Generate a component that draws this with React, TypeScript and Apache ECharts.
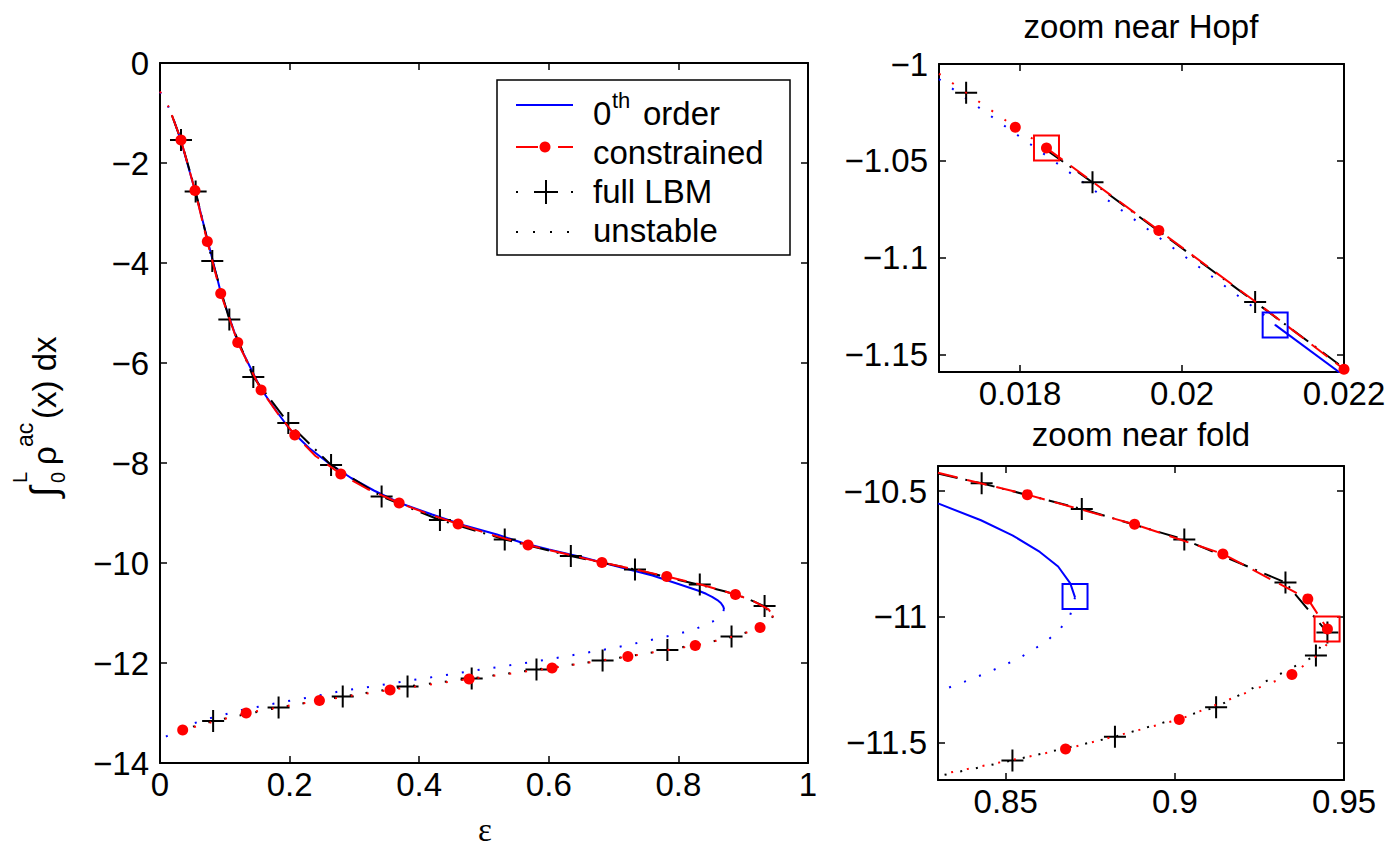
import React, { useEffect, useRef } from 'react';
import * as echarts from 'echarts';

// ---------------- MAIN PANEL DATA (epsilon, integral) ----------------
const mainBlueUpperUnstable = [[0, -0.58], [0.013, -0.88], [0.017, -1.008], [0.0212, -1.135]];
const mainBlueUpperStable = [
  [0.0212, -1.135], [0.032, -1.54], [0.054, -2.55], [0.074, -3.57], [0.094, -4.6], [0.12, -5.58],
  [0.155, -6.5], [0.18, -6.97], [0.2, -7.32], [0.23, -7.7], [0.26, -8.0], [0.295, -8.3], [0.33, -8.55],
  [0.37, -8.8], [0.42, -9.03], [0.47, -9.25], [0.52, -9.43], [0.56, -9.6], [0.6, -9.73], [0.65, -9.88],
  [0.7, -10.05], [0.76, -10.25], [0.8, -10.42], [0.83, -10.55], [0.8427, -10.616], [0.852, -10.676],
  [0.8601, -10.742], [0.8655, -10.8], [0.8691, -10.867], [0.8705, -10.923],
];
const mainBlueLowerUnstable = [
  [0.8705, -10.923], [0.866, -11.05], [0.853, -11.17], [0.828, -11.31], [0.802, -11.41], [0.751, -11.56],
  [0.7, -11.7], [0.647, -11.82], [0.594, -11.94], [0.543, -12.04], [0.49, -12.14], [0.437, -12.25],
  [0.385, -12.35], [0.333, -12.46], [0.28, -12.56], [0.229, -12.69], [0.177, -12.81], [0.126, -12.94],
  [0.1, -13.03], [0.075, -13.11], [0.049, -13.22], [0.025, -13.36], [0, -13.54],
];
const mainRedUpperUnstable = [[0, -0.57], [0.013, -0.87], [0.0183, -1.043]];
const mainRedUpperStable = [
  [0.0183, -1.043], [0.0324, -1.54], [0.054, -2.55], [0.073, -3.57], [0.0937, -4.61], [0.12, -5.59],
  [0.156, -6.54], [0.18, -6.98], [0.208, -7.44], [0.24, -7.86], [0.279, -8.22], [0.32, -8.52],
  [0.369, -8.8], [0.41, -9.0], [0.46, -9.22], [0.51, -9.43], [0.568, -9.64], [0.62, -9.8],
  [0.682, -9.99], [0.73, -10.12], [0.782, -10.27], [0.84, -10.45], [0.888, -10.63], [0.9142, -10.75],
  [0.9393, -10.929], [0.9455, -11.05],
];
const mainRedLowerUnstable = [
  [0.9455, -11.05], [0.9455, -11.1], [0.9425, -11.15], [0.9346, -11.23], [0.926, -11.29], [0.9013, -11.409],
  [0.8677, -11.527], [0.826, -11.65], [0.722, -11.87], [0.605, -12.1], [0.477, -12.32], [0.355, -12.54],
  [0.246, -12.75], [0.133, -13.0], [0.035, -13.34], [0.016, -13.46],
];
const mainBlackUpperStable = [
  [0.0183, -1.045], [0.0324, -1.54], [0.055, -2.57], [0.0807, -3.96], [0.107, -5.13], [0.144, -6.28],
  [0.198, -7.2], [0.264, -8.04], [0.342, -8.67], [0.432, -9.14], [0.532, -9.53], [0.634, -9.86],
  [0.733, -10.13], [0.8429, -10.469], [0.8725, -10.571], [0.9028, -10.693], [0.9327, -10.864], [0.946, -11.06],
];
const mainBlackLowerUnstable = [
  [0.946, -11.06], [0.9417, -11.154], [0.9122, -11.36], [0.8823, -11.478], [0.852, -11.572], [0.783, -11.74],
  [0.683, -11.95], [0.581, -12.13], [0.481, -12.31], [0.382, -12.47], [0.282, -12.67], [0.183, -12.89],
  [0.082, -13.16], [0.035, -13.33],
];
const mainRedMarkers = [
  [0.0324, -1.54], [0.054, -2.55], [0.073, -3.57], [0.0937, -4.61], [0.12, -5.59], [0.156, -6.54],
  [0.208, -7.44], [0.279, -8.22], [0.369, -8.8], [0.46, -9.22], [0.568, -9.64], [0.682, -9.99],
  [0.782, -10.27], [0.888, -10.63],
  [0.926, -11.29], [0.826, -11.65], [0.722, -11.87], [0.605, -12.1], [0.477, -12.32], [0.355, -12.54],
  [0.246, -12.75], [0.133, -13.0], [0.035, -13.34],
];
const mainBlackMarkers = [
  [0.0324, -1.54], [0.055, -2.57], [0.0807, -3.96], [0.107, -5.13], [0.144, -6.28], [0.198, -7.2],
  [0.264, -8.04], [0.342, -8.67], [0.432, -9.14], [0.532, -9.53], [0.634, -9.86], [0.733, -10.13],
  [0.833, -10.43], [0.933, -10.86],
  [0.882, -11.47], [0.783, -11.74], [0.683, -11.95], [0.581, -12.13], [0.481, -12.31], [0.382, -12.47],
  [0.282, -12.67], [0.183, -12.89], [0.082, -13.16],
];

// ---------------- HOPF ZOOM DATA ----------------
const hopfBlueUnstable = [[0.017, -1.0078], [0.018405, -1.0497], [0.019617, -1.0865], [0.021004, -1.1293], [0.02115, -1.1347]];
const hopfBlueStable = [[0.02115, -1.1347], [0.0221, -1.164]];
const hopfRedUnstable = [[0.017, -1.005], [0.017942, -1.0326], [0.018327, -1.0434]];
const hopfRedStable = [[0.018327, -1.0434], [0.019714, -1.0859], [0.0209, -1.1225], [0.022, -1.1576]];
const hopfBlackStable = [[0.01833, -1.0445], [0.018895, -1.0611], [0.020903, -1.1229], [0.022, -1.157]];
const hopfRedMarkers = [[0.017942, -1.0326], [0.018327, -1.0434], [0.019714, -1.0859], [0.022, -1.1576]];
const hopfBlackMarkers = [[0.017335, -1.0148], [0.018895, -1.0611], [0.020903, -1.1229]];
const hopfRedSquare = [[0.018327, -1.0434]];
const hopfBlueSquare = [[0.02115, -1.1347]];

// ---------------- FOLD ZOOM DATA ----------------
const foldBlueStable = [
  [0.83, -10.549], [0.8427, -10.616], [0.852, -10.676], [0.8601, -10.742], [0.8655, -10.8], [0.8691, -10.867], [0.8705, -10.923],
];
const foldBlueUnstable = [
  [0.8705, -10.923], [0.8691, -10.993], [0.866, -11.051], [0.8621, -11.097], [0.8577, -11.135], [0.8533, -11.17],
  [0.8487, -11.198], [0.844, -11.226], [0.8393, -11.251], [0.8344, -11.276], [0.83, -11.298],
];
const foldRedStable = [[0.83, -10.427], [0.8564, -10.514], [0.8881, -10.632], [0.9142, -10.75], [0.9393, -10.929], [0.9451, -11.049]];
const foldRedUnstable = [
  [0.9451, -11.049], [0.9455, -11.1], [0.9425, -11.15], [0.9346, -11.23], [0.9013, -11.409], [0.8677, -11.527], [0.8333, -11.621], [0.83, -11.63],
];
const foldBlackStable = [[0.83, -10.43], [0.8429, -10.469], [0.8725, -10.571], [0.9028, -10.693], [0.9327, -10.864], [0.9451, -11.063]];
const foldBlackUnstable = [[0.9451, -11.063], [0.9417, -11.154], [0.9122, -11.36], [0.8823, -11.478], [0.852, -11.572], [0.83, -11.635]];
const foldRedMarkers = [
  [0.8564, -10.514], [0.8881, -10.632], [0.9142, -10.75], [0.9393, -10.929], [0.9451, -11.049], [0.9346, -11.23], [0.9013, -11.409], [0.8677, -11.527],
];
const foldBlackMarkers = [
  [0.8429, -10.469], [0.8725, -10.571], [0.9028, -10.693], [0.9327, -10.864], [0.9451, -11.063], [0.9417, -11.154],
  [0.9122, -11.36], [0.8823, -11.478], [0.852, -11.572],
];
const foldBlueSquare = [[0.8705, -10.92]];
const foldRedSquare = [[0.945, -11.049]];

// ---------------- AXES ----------------
const mainX = { min: 0, max: 1, step: 0.2 };
const mainY = { min: -14, max: 0, step: 2 };
const hopfX = { min: 0.017, max: 0.022, step: 0.002 };
const hopfY = { min: -1.159, max: -1, step: 0.05 };
const foldX = { min: 0.83, max: 0.95, step: 0.05 };
const foldY = { min: -11.65, max: -10.4, step: 0.5 };

const legendLabels = ['0th order', 'constrained', 'full LBM', 'unstable'];
const titles = ['zoom near Hopf', 'zoom near fold'];

const FONT = "'Liberation Sans', Arial, Helvetica, sans-serif";
const BLUE = '#0000ff';
const RED = '#ff0000';
const BLACK = '#000000';
const DOT = [2, 14];
const DASH = [20, 10];
const DASHDOT = [20, 8, 2, 8];
const PLUS = 'path://M0,10H22V12H0Z M10,0H12V22H10Z';

function fmt(step: number) {
  return (v: number) => {
    const r = Math.round(v / step);
    if (Math.abs(v / step - r) > 1e-6) return '';
    const s = String(+(r * step).toFixed(6));
    return s.replace('-', '\u2212');
  };
}

const tickStyle = { show: true, inside: true, length: 7, lineStyle: { color: BLACK, width: 1.5 } };
const lineAxis = { show: true, onZero: false, lineStyle: { color: BLACK, width: 2 } };

function xAxes(grid: number, a: any) {
  const base = { type: 'value', gridIndex: grid, min: a.min, max: a.max, minInterval: a.step, maxInterval: a.step, axisLine: lineAxis, axisTick: tickStyle, splitLine: { show: false } };
  return [
    { ...base, position: 'bottom', axisLabel: { show: true, margin: 5, color: BLACK, fontSize: 33, fontFamily: FONT, formatter: fmt(a.step) } },
    { ...base, position: 'top', axisLabel: { show: false } },
  ];
}
function yAxes(grid: number, a: any) {
  const base = { type: 'value', gridIndex: grid, min: a.min, max: a.max, minInterval: a.step, maxInterval: a.step, axisLine: lineAxis, axisTick: tickStyle, splitLine: { show: false } };
  return [
    { ...base, position: 'left', axisLabel: { show: true, margin: 11, color: BLACK, fontSize: 33, fontFamily: FONT, formatter: fmt(a.step) } },
    { ...base, position: 'right', axisLabel: { show: false } },
  ];
}

function lineS(data: number[][], ax: number, color: string, dash: any, z: number) {
  return {
    type: 'line', xAxisIndex: ax, yAxisIndex: ax, data, showSymbol: false, symbol: 'none', silent: true, clip: true, z,
    lineStyle: { color, width: 2, type: dash, cap: 'butt', opacity: 1 },
  };
}
function dots(data: number[][], ax: number, z: number) {
  return { type: 'scatter', xAxisIndex: ax, yAxisIndex: ax, data, symbol: 'circle', symbolSize: 11, itemStyle: { color: RED, opacity: 1 }, silent: true, z };
}
function pluses(data: number[][], ax: number, z: number) {
  return { type: 'scatter', xAxisIndex: ax, yAxisIndex: ax, data, symbol: PLUS, symbolSize: 22, itemStyle: { color: BLACK, opacity: 1 }, silent: true, z };
}
function squares(data: number[][], ax: number, color: string) {
  return {
    type: 'scatter', xAxisIndex: ax, yAxisIndex: ax, data, symbol: 'rect', symbolSize: 25, silent: true, z: 20,
    itemStyle: { color: 'rgba(0,0,0,0)', borderColor: color, borderWidth: 2, opacity: 1 },
  };
}

function txt(text: string, x: number, y: number, size: number, extra: any = {}) {
  return {
    type: 'text', x, y, z: 101,
    style: { text, fontSize: size, fontFamily: FONT, fill: BLACK, align: 'left', verticalAlign: 'middle', ...extra },
  };
}

export default function App() {
  const ref = useRef<HTMLDivElement>(null);
  useEffect(() => {
    if (!ref.current) return;
    const chart = echarts.init(ref.current, null, { renderer: 'svg' });
    const series: any[] = [
      // main panel (axis index 0)
      lineS(mainBlueUpperUnstable, 0, BLUE, DOT, 2),
      lineS(mainBlueUpperStable, 0, BLUE, 'solid', 2),
      lineS(mainBlueLowerUnstable, 0, BLUE, DOT, 2),
      lineS(mainBlackUpperStable, 0, BLACK, DASHDOT, 3),
      lineS(mainBlackLowerUnstable, 0, BLACK, DOT, 3),
      pluses(mainBlackMarkers, 0, 4),
      lineS(mainRedUpperUnstable, 0, RED, DOT, 5),
      lineS(mainRedUpperStable, 0, RED, DASH, 5),
      lineS(mainRedLowerUnstable, 0, RED, DOT, 5),
      dots(mainRedMarkers, 0, 6),
      // hopf zoom (axis index 2)
      lineS(hopfBlueUnstable, 2, BLUE, DOT, 2),
      lineS(hopfBlueStable, 2, BLUE, 'solid', 2),
      lineS(hopfBlackStable, 2, BLACK, DASHDOT, 3),
      pluses(hopfBlackMarkers, 2, 4),
      lineS(hopfRedUnstable, 2, RED, DOT, 5),
      lineS(hopfRedStable, 2, RED, DASH, 5),
      dots(hopfRedMarkers, 2, 6),
      squares(hopfRedSquare, 2, RED),
      squares(hopfBlueSquare, 2, BLUE),
      // fold zoom (axis index 4)
      lineS(foldBlueStable, 4, BLUE, 'solid', 2),
      lineS(foldBlueUnstable, 4, BLUE, DOT, 2),
      lineS(foldBlackStable, 4, BLACK, DASHDOT, 3),
      lineS(foldBlackUnstable, 4, BLACK, DOT, 3),
      pluses(foldBlackMarkers, 4, 4),
      lineS(foldRedStable, 4, RED, DASH, 5),
      lineS(foldRedUnstable, 4, RED, DOT, 5),
      dots(foldRedMarkers, 4, 6),
      squares(foldBlueSquare, 4, BLUE),
      squares(foldRedSquare, 4, RED),
    ];

    const graphic: any[] = [
      // titles
      { type: 'text', x: 1141, y: 26, z: 101, style: { text: titles[0], fontSize: 33, fontFamily: FONT, fill: BLACK, align: 'center', verticalAlign: 'middle' } },
      { type: 'text', x: 1141, y: 434, z: 101, style: { text: titles[1], fontSize: 33, fontFamily: FONT, fill: BLACK, align: 'center', verticalAlign: 'middle' } },
      // x label
      { type: 'text', x: 485, y: 830, z: 101, style: { text: '\u03b5', fontSize: 33, fontFamily: "'Liberation Serif', 'DejaVu Serif', serif", fill: BLACK, align: 'center', verticalAlign: 'middle' } },
      // y label (rotated)
      {
        type: 'group', x: 44, y: 407, rotation: Math.PI / 2, z: 101,
        children: [
          txt('\u222b', -90, 0, 38),
          txt('L', -76, -24, 20),
          txt('0', -76, 14, 20),
          txt('\u03c1', -58, 0, 33),
          txt('ac', -40, -19, 23),
          txt('(x) dx', -12, 0, 33),
        ],
      },
      // legend
      { type: 'rect', z: 100, shape: { x: 497, y: 80, width: 293, height: 175 }, style: { fill: '#fff', stroke: BLACK, lineWidth: 1.5 } },
      { type: 'line', z: 101, shape: { x1: 516, y1: 105, x2: 573, y2: 105 }, style: { stroke: BLUE, lineWidth: 2 } },
      { type: 'line', z: 101, shape: { x1: 516, y1: 147, x2: 538, y2: 147 }, style: { stroke: RED, lineWidth: 2 } },
      { type: 'line', z: 101, shape: { x1: 558, y1: 147, x2: 573, y2: 147 }, style: { stroke: RED, lineWidth: 2 } },
      { type: 'circle', z: 101, shape: { cx: 545, cy: 147, r: 5.5 }, style: { fill: RED } },
      { type: 'rect', z: 101, shape: { x: 516, y: 191, width: 2, height: 2 }, style: { fill: BLACK } },
      { type: 'rect', z: 101, shape: { x: 571, y: 191, width: 2, height: 2 }, style: { fill: BLACK } },
      { type: 'line', z: 101, shape: { x1: 534, y1: 192, x2: 558, y2: 192 }, style: { stroke: BLACK, lineWidth: 2 } },
      { type: 'line', z: 101, shape: { x1: 546, y1: 180, x2: 546, y2: 204 }, style: { stroke: BLACK, lineWidth: 2 } },
      { type: 'rect', z: 101, shape: { x: 516, y: 231, width: 2, height: 2 }, style: { fill: BLACK } },
      { type: 'rect', z: 101, shape: { x: 533, y: 231, width: 2, height: 2 }, style: { fill: BLACK } },
      { type: 'rect', z: 101, shape: { x: 550, y: 231, width: 2, height: 2 }, style: { fill: BLACK } },
      { type: 'rect', z: 101, shape: { x: 567, y: 231, width: 2, height: 2 }, style: { fill: BLACK } },
      txt('0', 593, 113, 33),
      txt('th', 612, 100, 22),
      txt('order', 643, 113, 33),
      txt(legendLabels[1], 593, 152, 33),
      txt(legendLabels[2], 593, 191.5, 33),
      txt(legendLabels[3], 593, 230.5, 33),
    ];

    chart.setOption({
      animation: false,
      backgroundColor: '#fff',
      textStyle: { fontFamily: FONT },
      grid: [
        { left: 160, top: 63, width: 648, height: 700 },
        { left: 939, top: 64, width: 405, height: 308 },
        { left: 938, top: 466, width: 406, height: 314 },
      ],
      xAxis: [...xAxes(0, mainX), ...xAxes(1, hopfX), ...xAxes(2, foldX)],
      yAxis: [...yAxes(0, mainY), ...yAxes(1, hopfY), ...yAxes(2, foldY)],
      series,
      graphic,
    });
    return () => chart.dispose();
  }, []);
  return <div ref={ref} style={{ position: 'absolute', left: 0, top: 0, width: 1389, height: 850 }} />;
}
